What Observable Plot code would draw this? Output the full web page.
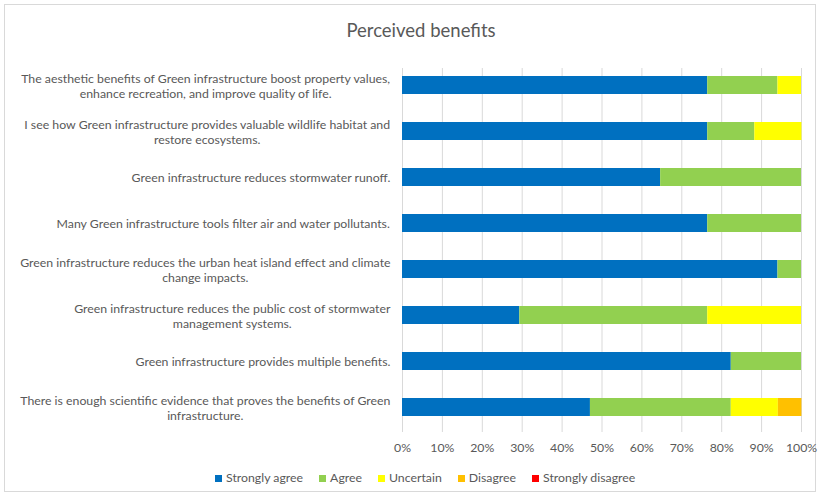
<!DOCTYPE html>
<html>
<head>
<meta charset="utf-8">
<script src="https://cdn.jsdelivr.net/npm/d3@7"></script>
<script src="https://cdn.jsdelivr.net/npm/@observablehq/plot@0.6"></script>
<style>
  html, body { margin: 0; padding: 0; background: #fff; }
  body { width: 819px; height: 495px; position: relative; overflow: hidden; font-family: Lato, "Liberation Sans", sans-serif; color: #595959; }
  #frame { position: absolute; left: 4px; top: 4px; width: 812px; height: 488px; border: 1px solid #d9d9d9; box-sizing: border-box; }
  #title { position: absolute; left: 0; top: 0; width: 842px; height: 45px; text-align: center; font-size: 18.5px; line-height: 60px; color: #595959; }
  #chart { position: absolute; left: 0; top: 45px; }
  #legend { position: absolute; left: 215px; top: 470px; display: flex; gap: 16px; font-size: 12.3px; line-height: 16px; }
  #legend .item { display: flex; align-items: center; }
  #legend .sw { width: 7px; height: 7px; margin-right: 4px; }
</style>
</head>
<body>
<div id="frame"></div>
<div id="title">Perceived benefits</div>
<div id="chart"></div>
<div id="legend"></div>
<script>
const categories = [
  "The aesthetic benefits of Green infrastructure boost property values,\nenhance recreation, and improve quality of life.",
  "I see how Green infrastructure provides valuable wildlife habitat and\nrestore ecosystems.",
  "Green infrastructure reduces stormwater runoff.",
  "Many Green infrastructure tools filter air and water pollutants.",
  "Green infrastructure reduces the urban heat island effect and climate\nchange impacts.",
  "Green infrastructure reduces the public cost of stormwater\nmanagement systems.",
  "Green infrastructure provides multiple benefits.",
  "There is enough scientific evidence that proves the benefits of Green\ninfrastructure."
];
const seriesNames = ["Strongly agree", "Agree", "Uncertain", "Disagree", "Strongly disagree"];
const seriesColors = ["#0070C0", "#92D050", "#FFFF00", "#FFC000", "#FF0000"];
const stronglyAgree = [76.5, 76.5, 64.7, 76.5, 94.1, 29.4, 82.4, 47.1];
const agree         = [17.6, 11.8, 35.3, 23.5,  5.9, 47.1, 17.6, 35.3];
const uncertain     = [ 5.9, 11.8,  0,    0,    0,   23.5,  0,   11.8];
const disagree      = [ 0,    0,    0,    0,    0,    0,    0,    5.9];
const stronglyDisagree = [0, 0, 0, 0, 0, 0, 0, 0];
const xTicks = [0, 10, 20, 30, 40, 50, 60, 70, 80, 90, 100];

const seriesValues = [stronglyAgree, agree, uncertain, disagree, stronglyDisagree];
const data = [];
seriesNames.forEach((s, si) => {
  categories.forEach((c, ci) => {
    data.push({category: c, series: s, value: seriesValues[si][ci]});
  });
});

const labelSize = 12.3;
const canvas = document.createElement("canvas");
const ctx = canvas.getContext("2d");
ctx.font = labelSize + "px Lato";
const labelMarks = categories.map(c => {
  const w = d3.max(c.split("\n"), line => ctx.measureText(line).width);
  return Plot.text([c], {
    y: d => d, text: d => d, frameAnchor: "left", textAnchor: "middle",
    dx: -(12 + w / 2), lineHeight: 15 / labelSize, fill: "#595959", fontSize: labelSize
  });
});

const chart = Plot.plot({
  width: 819,
  height: 420,
  marginLeft: 402,
  marginRight: 18,
  marginTop: 23,
  marginBottom: 33,
  style: {fontFamily: "Lato, 'Liberation Sans', sans-serif", fontSize: "12.3px", color: "#595959", background: "transparent"},
  x: {domain: [0, 100], ticks: xTicks, tickFormat: d => d + "%", tickSize: 0, tickPadding: 11, label: null},
  y: {domain: categories, range: [14.4, 387.7], paddingInner: 0.6, paddingOuter: 0.3, axis: null},
  color: {domain: seriesNames, range: seriesColors},
  marks: [
    Plot.ruleX(xTicks, {stroke: "#d9d9d9", strokeWidth: 1}),
    Plot.barX(data, {y: "category", x: "value", fill: "series", order: seriesNames}),
    ...labelMarks
  ]
});
document.getElementById("chart").appendChild(chart);

const legend = document.getElementById("legend");
seriesNames.forEach((s, i) => {
  const item = document.createElement("div");
  item.className = "item";
  const sw = document.createElement("span");
  sw.className = "sw";
  sw.style.background = seriesColors[i];
  const t = document.createElement("span");
  t.textContent = s;
  item.appendChild(sw);
  item.appendChild(t);
  legend.appendChild(item);
});
</script>
</body>
</html>
